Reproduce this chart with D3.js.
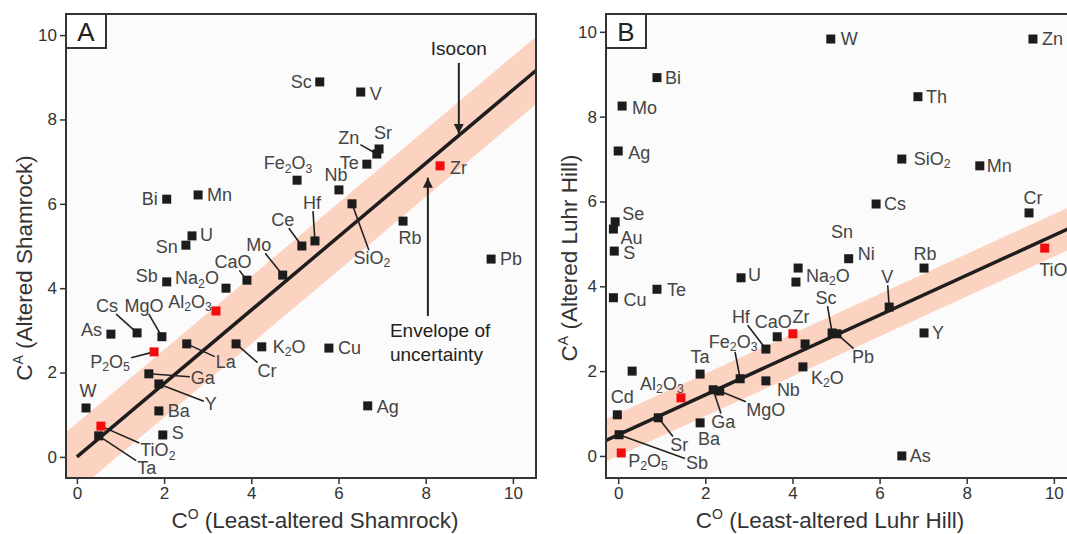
<!DOCTYPE html>
<html>
<head>
<meta charset="utf-8">
<script src="https://cdn.jsdelivr.net/npm/d3@7"></script>
<style>
  body { margin: 0; background: #fff; }
  svg { font-family: "Liberation Sans", Arial, sans-serif; display: block; }
</style>
</head>
<body>
<script>
// ---- data: panel A (Shamrock) ----
const elementsA = ['Sc','V','Zn','Sr','Te','Zr','Fe2O3','Nb','SiO2','Hf','Ce','Rb','Bi','Mn','U','Sn','Mo','CaO','Na2O','Sb',
  'Al2O3','Cs','MgO','As','P2O5','La','Cr','K2O','Ga','Y','Ba','W','S','TiO2','Ta','Cu','Ag','Pb'];
const xA = [5.57,6.51,6.88,6.93,6.65,8.33,5.05,6.01,6.31,5.46,5.16,7.48,2.06,2.78,2.64,2.50,4.72,3.90,3.42,2.06,
  3.19,1.38,1.95,0.78,1.77,2.52,3.65,4.24,1.65,1.88,1.88,0.21,1.97,0.55,0.50,5.78,6.67,9.50];
const yA = [8.89,8.65,7.18,7.30,6.94,6.90,6.56,6.33,6.00,5.12,5.00,5.59,6.11,6.21,5.24,5.02,4.31,4.19,4.00,4.15,
  3.46,2.94,2.85,2.91,2.49,2.68,2.68,2.61,1.97,1.73,1.09,1.16,0.52,0.73,0.50,2.58,1.21,4.69];

// ---- data: panel B (Luhr Hill) ----
const elementsB = ['Bi','Mo','Ag','Se','Au','S','Cu','Te','U','Sn','Na2O','Ni','W','Zn','Th','SiO2','Mn','Cs','Cr','TiO2',
  'Rb','V','Sc','Pb','Y','As','K2O',null,'Zr','CaO','Hf','Fe2O3','Nb','MgO','Ga','Ta',null,'Al2O3','Cd','Ba','Sr','Sb','P2O5'];
const xB = [0.89,0.09,0.00,-0.07,-0.11,-0.09,-0.11,0.89,2.82,4.13,4.08,5.29,4.88,9.52,6.88,6.51,8.30,5.92,9.43,9.79,
  7.02,6.22,4.91,5.02,7.02,6.51,4.24,4.29,4.01,3.65,3.39,2.80,3.39,2.33,2.18,1.88,0.32,1.44,-0.02,1.88,0.92,0.02,0.07];
const yB = [8.92,8.25,7.19,5.52,5.35,4.83,3.73,3.93,4.20,4.43,4.10,4.65,9.83,9.83,8.47,7.00,6.84,5.94,5.73,4.90,
  4.43,3.51,2.90,2.88,2.90,0.00,2.10,2.64,2.88,2.81,2.52,1.82,1.77,1.53,1.56,1.93,2.00,1.37,0.97,0.78,0.90,0.50,0.07];

// immobile elements plotted in red
const immobile = ['Zr','TiO2','Al2O3','P2O5'];

// isocon fits and envelope half-widths
const isoconA = { slope: 0.87, intercept: 0, half: 0.8, start: 0 };
const isoconB = { slope: 0.47, intercept: 0.5, half: 0.5, start: null };

const xTicks = [0, 2, 4, 6, 8, 10];
const yTicks = [0, 2, 4, 6, 8, 10];

// label layout: [anchor, dx, dy, leader]
const layoutA = {
  Sc:['end',-8,0], V:['start',9,2], Zn:['middle',-28,-16,1], Sr:['middle',4,-16], Te:['end',-8,-1],
  Zr:['start',10,2], Fe2O3:['middle',-9,-17], Nb:['middle',-3,-15], SiO2:['middle',20,54,1],
  Hf:['middle',-3,-38,1], Ce:['middle',-19,-26,1], Rb:['middle',7,17], Bi:['end',-9,0], Mn:['start',9,0],
  U:['start',8,-1], Sn:['end',-8,2], Mo:['middle',-24,-30,1], CaO:['middle',-14,-18,1], Na2O:['middle',-29,-10],
  Sb:['end',-9,-6], Al2O3:['middle',-26,-9], Cs:['middle',-30,-27,1], MgO:['middle',-18,-31,1], As:['end',-9,-4],
  P2O5:['middle',-44,10,1], La:['middle',39,18,1], Cr:['middle',31,27,1], K2O:['start',11,0],
  Ga:['middle',54,4,1], Y:['middle',52,20,1], Ba:['start',9,0], W:['middle',2,-17], S:['start',9,-2],
  TiO2:['middle',57,24,1], Ta:['middle',48,32,1], Cu:['start',9,0], Ag:['start',9,1], Pb:['start',9,0]
};
const layoutB = {
  Bi:['start',8,0], Mo:['start',10,2], Ag:['start',10,2], Se:['start',7,-8], Au:['start',7,9], S:['start',9,2],
  Cu:['start',10,2], Te:['start',10,1], U:['start',7,-3], Sn:['middle',44,-36], Na2O:['start',10,-6],
  Ni:['start',9,-5], W:['start',10,0], Zn:['start',9,0], Th:['start',8,0], SiO2:['start',12,0], Mn:['start',7,0],
  Cs:['start',8,0], Cr:['middle',4,-15], TiO2:['middle',12,22], Rb:['middle',1,-14], V:['middle',-2,-30,1],
  Sc:['middle',-6,-35,1], Pb:['middle',26,23,1], Y:['start',8,0], As:['start',8,0], K2O:['start',8,11],
  Zr:['middle',8,-17], CaO:['middle',-4,-15], Hf:['middle',-25,-32,1], Fe2O3:['middle',-7,-37,1],
  Nb:['start',11,9], MgO:['middle',46,19,1], Ga:['middle',10,32,1], Ta:['middle',0,-17], Al2O3:['middle',-19,-14],
  Cd:['middle',5,-18], Ba:['middle',9,16], Sr:['middle',21,27,1], Sb:['middle',78,28,1], P2O5:['start',7,8]
};

const W = 1067, H = 534;
const svg = d3.select('body').append('svg').attr('width', W).attr('height', H);
svg.append('defs').append('marker')
  .attr('id', 'arrow').attr('viewBox', '0 0 10 10').attr('refX', 10).attr('refY', 5)
  .attr('markerWidth', 5).attr('markerHeight', 5).attr('markerUnits', 'strokeWidth').attr('orient', 'auto')
  .append('path').attr('d', 'M0,0L10,5L0,10z').attr('fill', '#222');

// writes chemical formulae with subscripted digits
function formula(text, s, size) {
  const parts = s.match(/[A-Za-z]+|\d+/g);
  let low = false;
  parts.forEach(p => {
    const t = text.append('tspan').text(p);
    if (/\d/.test(p)) {
      t.attr('font-size', size * 0.68).attr('dy', low ? 0 : size * 0.3);
      low = true;
    } else {
      if (low) t.attr('dy', -size * 0.3);
      low = false;
    }
  });
}

function panel(cfg) {
  const x = d3.scaleLinear().domain(cfg.xDomain).range(cfg.xRange);
  const y = d3.scaleLinear().domain(cfg.yDomain).range(cfg.yRange);
  const [x0, x1] = cfg.xRange, [y1, y0] = cfg.yRange;
  const g = svg.append('g');

  g.append('clipPath').attr('id', 'clip' + cfg.id)
    .append('rect').attr('x', x0).attr('y', y0).attr('width', x1 - x0).attr('height', y1 - y0);
  g.append('rect').attr('x', x0).attr('y', y0).attr('width', x1 - x0).attr('height', y1 - y0).attr('fill', '#fbfbfb');

  const plot = g.append('g').attr('clip-path', `url(#clip${cfg.id})`);
  const iso = cfg.isocon;
  const f = v => iso.intercept + iso.slope * v;
  const [d0, d1] = cfg.xDomain;
  plot.append('path')
    .attr('d', d3.line()([[x(d0), y(f(d0) + iso.half)], [x(d1), y(f(d1) + iso.half)],
      [x(d1), y(f(d1) - iso.half)], [x(d0), y(f(d0) - iso.half)]]) + 'Z')
    .attr('fill', '#fcd2c0');
  const s0 = iso.start === null ? d0 : iso.start;
  plot.append('line')
    .attr('x1', x(s0)).attr('y1', y(f(s0))).attr('x2', x(d1)).attr('y2', y(f(d1)))
    .attr('stroke', '#1e1e1e').attr('stroke-width', 3.5);

  const pts = cfg.names.map((n, i) => ({ name: n, x: cfg.xs[i], y: cfg.ys[i] }));
  const leaders = plot.append('g');
  const labels = g.append('g').attr('fill', '#444').attr('font-size', 18);
  pts.forEach(p => {
    const lay = p.name && cfg.layout[p.name];
    if (!lay) return;
    const px = x(p.x), py = y(p.y);
    const t = labels.append('text')
      .attr('x', px + lay[1]).attr('y', py + lay[2])
      .attr('text-anchor', lay[0]).attr('dominant-baseline', 'central');
    formula(t, p.name, 18);
    if (lay[3]) {
      const b = t.node().getBBox();
      const cx = b.x + b.width / 2, cy = b.y + b.height / 2;
      const dx = px - cx, dy = py - cy;
      const tt = Math.min((b.width / 2 + 1) / Math.abs(dx || 1e-6), (b.height * 0.36 + 1) / Math.abs(dy || 1e-6));
      leaders.append('line')
        .attr('x1', cx + dx * tt).attr('y1', cy + dy * tt).attr('x2', px).attr('y2', py)
        .attr('stroke', '#222').attr('stroke-width', 1.6);
    }
  });
  plot.append('g').selectAll('rect').data(pts).join('rect')
    .attr('x', d => x(d.x) - 4.5).attr('y', d => y(d.y) - 4.5)
    .attr('width', 9).attr('height', 9)
    .attr('fill', d => immobile.includes(d.name) ? '#f20d0d' : '#1c1c1c');

  if (cfg.annotate) cfg.annotate(g, x, y);

  // axes
  const ax = g.append('g').attr('transform', `translate(0,${y1})`)
    .call(d3.axisBottom(x).tickValues(xTicks).tickSize(6).tickPadding(3));
  const ay = g.append('g').attr('transform', `translate(${x0},0)`)
    .call(d3.axisLeft(y).tickValues(yTicks).tickSize(6).tickPadding(3));
  [ax, ay].forEach(a => {
    a.select('.domain').remove();
    a.selectAll('line').attr('stroke', '#333').attr('stroke-width', 1.5);
    a.selectAll('text').attr('font-size', 17).attr('fill', '#333')
      .attr('font-family', '"Liberation Sans", Arial, sans-serif');
  });

  g.append('rect').attr('x', x0).attr('y', y0).attr('width', x1 - x0).attr('height', y1 - y0)
    .attr('fill', 'none').attr('stroke', '#333').attr('stroke-width', 2);
  g.append('rect').attr('x', x0).attr('y', y0).attr('width', 40).attr('height', 34)
    .attr('fill', '#fff').attr('stroke', '#333').attr('stroke-width', 2);
  g.append('text').attr('x', x0 + 20).attr('y', y0 + 18).attr('text-anchor', 'middle')
    .attr('dominant-baseline', 'central').attr('font-size', 26).attr('fill', '#222').text(cfg.id);

  // axis titles
  const xt = g.append('text').attr('x', cfg.xTitlePos[0]).attr('y', cfg.xTitlePos[1])
    .attr('text-anchor', 'middle').attr('font-size', 22.5).attr('fill', '#333');
  xt.append('tspan').text('C');
  xt.append('tspan').attr('font-size', 14).attr('dy', -9).text('O');
  xt.append('tspan').attr('dy', 9).text(' ' + cfg.xTitle);
  const yt = g.append('text')
    .attr('transform', `translate(${cfg.yTitlePos[0]},${cfg.yTitlePos[1]}) rotate(-90)`)
    .attr('text-anchor', 'middle').attr('font-size', 22.5).attr('fill', '#333');
  yt.append('tspan').text('C');
  yt.append('tspan').attr('font-size', 14).attr('dy', -9).text('A');
  yt.append('tspan').attr('dy', 9).text(' ' + cfg.yTitle);
}

panel({
  id: 'A', names: elementsA, xs: xA, ys: yA, layout: layoutA, isocon: isoconA,
  xDomain: [-0.25, 10.53], xRange: [66, 536], yDomain: [-0.5, 10.5], yRange: [478, 14],
  xTitle: '(Least-altered Shamrock)', yTitle: '(Altered Shamrock)',
  xTitlePos: [315, 528], yTitlePos: [32, 268],
  annotate: (g, x, y) => {
    const a = g.append('g').attr('fill', '#222').attr('font-size', 19);
    a.append('text').attr('x', x(8.76)).attr('y', y(9.69)).attr('text-anchor', 'middle')
      .attr('dominant-baseline', 'central').text('Isocon');
    a.append('line').attr('x1', x(8.76)).attr('y1', y(9.34)).attr('x2', x(8.76)).attr('y2', y(7.66))
      .attr('stroke', '#222').attr('stroke-width', 2).attr('marker-end', 'url(#arrow)');
    a.append('line').attr('x1', x(8.05)).attr('y1', y(3.34)).attr('x2', x(8.05)).attr('y2', y(6.62))
      .attr('stroke', '#222').attr('stroke-width', 2).attr('marker-end', 'url(#arrow)');
    a.append('text').attr('x', x(7.18)).attr('y', y(3.0)).attr('dominant-baseline', 'central').text('Envelope of');
    a.append('text').attr('x', x(7.18)).attr('y', y(2.42)).attr('dominant-baseline', 'central').text('uncertainty');
  }
});

panel({
  id: 'B', names: elementsB, xs: xB, ys: yB, layout: layoutB, isocon: isoconB,
  xDomain: [-0.28, 10.6], xRange: [606, 1080], yDomain: [-0.52, 10.42], yRange: [478, 14],
  xTitle: '(Least-altered Luhr Hill)', yTitle: '(Altered Luhr Hill)',
  xTitlePos: [830, 528], yTitlePos: [577, 258]
});
</script>
</body>
</html>
